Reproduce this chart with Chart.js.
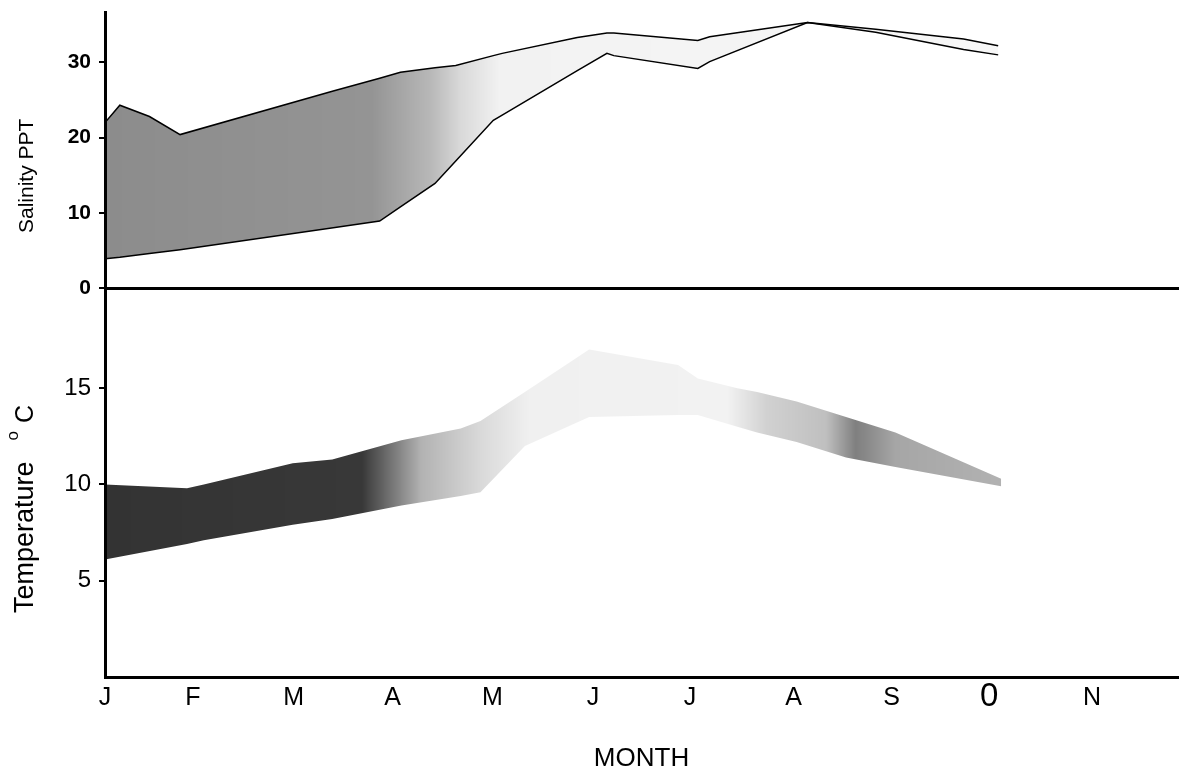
<!DOCTYPE html>
<html>
<head>
<meta charset="utf-8">
<title>Salinity and temperature by month</title>
<script src="https://cdn.jsdelivr.net/npm/chart.js@4/dist/chart.umd.min.js"></script>
<style>
  html, body { margin: 0; padding: 0; background: #fff; overflow: hidden; }
  #wrap { position: relative; width: 1180px; height: 768px; }
  .panel { position: absolute; left: 0; width: 1180px; }
  #top { top: 0; height: 300px; }
  #bottom { top: 280px; height: 492px; }
</style>
</head>
<body>
<div id="wrap">
  <div class="panel" id="top"><canvas id="chart-salinity"></canvas></div>
  <div class="panel" id="bottom"><canvas id="chart-temp"></canvas></div>
</div>
<script>
// month axis: 0 = January
var MONTH_LABELS = ["J", "F", "M", "A", "M", "J", "J", "A", "S", "0", "N"];
var MONTH_TICKS = [0, 0.89, 1.91, 2.91, 3.92, 4.94, 5.92, 6.97, 7.96, 8.95, 9.99];

// salinity range (ppt)
var SAL_MONTH = [0, 0.15, 0.45, 0.76, 2.31, 2.78, 2.99, 3.34, 3.55, 3.93, 4.02, 4.78, 5.08, 5.15, 6.0, 6.12, 7.11, 7.8, 8.69, 9.04];
var SAL_LOW = [3.9, 4.1, 4.6, 5.1, 8.0, 8.9, 10.8, 13.9, 16.9, 22.3, 23.0, 28.9, 31.2, 30.9, 29.2, 30.1, 35.3, 34.0, 31.7, 31.0];
var SAL_HIGH = [22.0, 24.3, 22.8, 20.4, 26.2, 27.9, 28.7, 29.3, 29.6, 30.9, 31.2, 33.3, 33.9, 33.9, 32.9, 33.4, 35.3, 34.4, 33.1, 32.2];
var SAL_TICKS = [0, 10, 20, 30];

// temperature range (deg C)
var TEMP_MONTH = [0, 0.83, 1.0, 1.9, 2.3, 3.0, 3.6, 3.8, 4.25, 4.9, 5.8, 6.0, 6.4, 6.6, 7.0, 7.5, 8.0, 9.07];
var TEMP_LOW = [6.1, 6.9, 7.1, 7.9, 8.2, 8.9, 9.4, 9.6, 12.0, 13.5, 13.6, 13.6, 13.0, 12.7, 12.2, 11.4, 10.9, 9.9];
var TEMP_HIGH = [10.0, 9.8, 10.0, 11.1, 11.3, 12.3, 12.9, 13.3, 14.8, 17.0, 16.2, 15.5, 15.0, 14.8, 14.3, 13.5, 12.7, 10.3];
var TEMP_TICKS = [5, 10, 15];

(function () {
  "use strict";
  var INK = "#000";
  var SANS = "'Liberation Sans', Arial, Helvetica, sans-serif";
  var X_MAX = 10.86;

  // stipple density along the year, drawn as a grey gradient
  var SAL_SHADE = [[0, 0.45], [2.7, 0.42], [3.3, 0.28], [3.6, 0.15], [4.0, 0.05], [9.1, 0.03]];
  var TEMP_SHADE = [[0, 0.8], [2.6, 0.78], [3.2, 0.3], [3.8, 0.15], [4.3, 0.06], [6.3, 0.05],
    [6.7, 0.18], [7.3, 0.25], [7.6, 0.5], [8.0, 0.35], [9.1, 0.3]];

  Chart.defaults.font.family = SANS;
  Chart.defaults.color = INK;
  Chart.defaults.plugins.legend.display = false;
  Chart.defaults.plugins.tooltip.enabled = false;
  Chart.defaults.animation = false;

  function pts(xs, ys) { return xs.map(function (x, i) { return { x: x, y: ys[i] }; }); }

  function shade(stops) {
    return function (c) {
      var ch = c.chart, a = ch.chartArea;
      if (!a) return "rgba(0,0,0,0.3)";
      var sx = ch.scales.x, w = a.right - a.left;
      var g = ch.ctx.createLinearGradient(a.left, 0, a.right, 0);
      stops.forEach(function (s) {
        var t = Math.min(1, Math.max(0, (sx.getPixelForValue(s[0]) - a.left) / w));
        g.addColorStop(t, "rgba(0,0,0," + s[1] + ")");
      });
      return g;
    };
  }

  function fixTicks(list) {
    return function (s) { s.ticks = list.map(function (v) { return { value: v }; }); };
  }

  // rotated y title drawn piece by piece (for the raised "o" in oC)
  var sideTitle = {
    id: "sideTitle",
    afterDraw: function (chart, args, o) {
      if (!o || !o.parts) return;
      var ctx = chart.ctx, pos = 0;
      ctx.save();
      ctx.translate(o.x, o.y);
      ctx.rotate(-Math.PI / 2);
      ctx.fillStyle = INK;
      ctx.textBaseline = "alphabetic";
      ctx.textAlign = "left";
      o.parts.forEach(function (p) {
        ctx.font = p.font;
        pos += p.gap || 0;
        ctx.fillText(p.text, pos, -(p.rise || 0));
        pos += ctx.measureText(p.text).width;
      });
      ctx.restore();
    },
  };

  function yAxis(min, max, ticks, font) {
    return {
      type: "linear", min: min, max: max,
      afterBuildTicks: fixTicks(ticks),
      afterFit: function (s) { s.width = 105; s.paddingTop = 0; s.paddingBottom = 0; },
      border: { display: true, color: INK, width: 3 },
      grid: { display: true, drawOnChartArea: false, drawTicks: true, tickLength: 6, lineWidth: 2, color: INK },
      ticks: { font: font, padding: 8, color: INK },
    };
  }

  new Chart(document.getElementById("chart-salinity"), {
    type: "line",
    data: {
      datasets: [
        { data: pts(SAL_MONTH, SAL_LOW), borderColor: INK, borderWidth: 1.5, pointRadius: 0, fill: false },
        { data: pts(SAL_MONTH, SAL_HIGH), borderColor: INK, borderWidth: 1.5, pointRadius: 0,
          fill: "-1", backgroundColor: shade(SAL_SHADE) },
      ],
    },
    options: {
      responsive: true, maintainAspectRatio: false,
      layout: { padding: { top: 12, bottom: 12, left: 0, right: 2 } },
      scales: {
        x: {
          type: "linear", min: 0, max: X_MAX,
          afterFit: function (s) { s.height = 0; s.paddingLeft = 0; s.paddingRight = 0; },
          border: { display: true, color: INK, width: 3 },
          grid: { display: false, drawTicks: false },
          ticks: { display: false },
        },
        y: yAxis(0, 36.7, SAL_TICKS, { size: 21, weight: "bold" }),
      },
      plugins: {
        sideTitle: { x: 33, y: 233, parts: [{ text: "Salinity PPT", font: "21px " + SANS }] },
      },
    },
    plugins: [sideTitle],
  });

  new Chart(document.getElementById("chart-temp"), {
    type: "line",
    data: {
      datasets: [
        { data: pts(TEMP_MONTH, TEMP_LOW), borderWidth: 0, pointRadius: 0, fill: false },
        { data: pts(TEMP_MONTH, TEMP_HIGH), borderWidth: 0, pointRadius: 0,
          fill: "-1", backgroundColor: shade(TEMP_SHADE) },
      ],
    },
    options: {
      responsive: true, maintainAspectRatio: false,
      layout: { padding: { top: 8, bottom: 0, left: 0, right: 2 } },
      scales: {
        x: {
          type: "linear", min: 0, max: X_MAX,
          afterBuildTicks: fixTicks(MONTH_TICKS),
          afterFit: function (s) { s.height = 95; s.paddingLeft = 0; s.paddingRight = 0; },
          border: { display: true, color: INK, width: 3 },
          grid: { display: false, drawTicks: false },
          ticks: {
            autoSkip: false, maxRotation: 0, padding: 6, color: INK,
            font: function (c) { return c.index === 9 ? { size: 33, lineHeight: 0.85 } : { size: 25 }; },
            callback: function (v, i) { return MONTH_LABELS[i]; },
          },
          title: { display: true, text: "MONTH", font: { size: 26, lineHeight: 1 }, padding: 0, color: INK },
        },
        y: yAxis(0, 20.2, TEMP_TICKS, { size: 24 }),
      },
      plugins: {
        sideTitle: { x: 33, y: 333, parts: [
          { text: "Temperature", font: "27px " + SANS },
          { text: "o", font: "17px " + SANS, gap: 21, rise: 15 },
          { text: "C", font: "25px " + SANS, gap: 8 },
        ] },
      },
    },
    plugins: [sideTitle],
  });
})();
</script>
</body>
</html>
